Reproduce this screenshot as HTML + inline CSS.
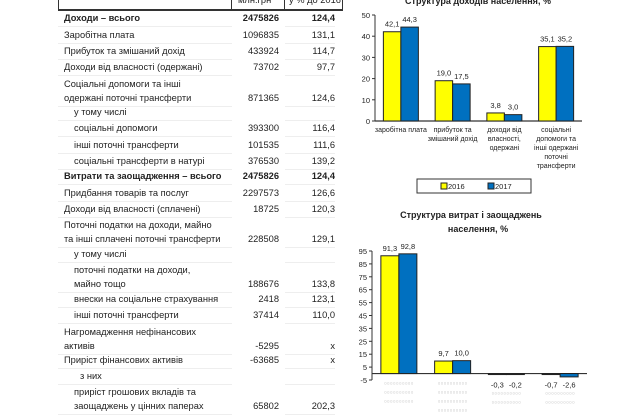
<!DOCTYPE html>
<html><head><meta charset="utf-8"><style>
body{margin:0;width:630px;height:416px;background:#fff;overflow:hidden;position:relative;font-family:"Liberation Sans","DejaVu Sans",sans-serif;}
.t{position:absolute;font-size:9.3px;color:#222;white-space:nowrap;line-height:12px}
.b{font-weight:bold}
.sep{position:absolute;height:1px;background:#eee;}
svg text{font-family:"Liberation Sans",sans-serif}
</style></head><body>
<div id="tbl"></div>
<svg id="c1" width="630" height="416" style="position:absolute;left:0;top:0"></svg>
<script>
var rows=[
["Доходи – всього","2475826","124,4",20,1,0],
["Заробітна плата","1096835","131,1",37,0,0],
["Прибуток та змішаний дохід","433924","114,7",53,0,0],
["Доходи від власності (одержані)","73702","97,7",69,0,0],
["Соціальні допомоги та інші|одержані поточні трансферти","871365","124,6",86,0,0],
["у тому числі","","",114,0,1],
["соціальні допомоги","393300","116,4",130,0,1],
["інші поточні трансферти","101535","111,6",147,0,1],
["соціальні трансферти в натурі","376530","139,2",163,0,1],
["Витрати та заощадження – всього","2475826","124,4",178,1,0],
["Придбання товарів та послуг","2297573","126,6",195,0,0],
["Доходи від власності (сплачені)","18725","120,3",211,0,0],
["Поточні податки на доходи, майно|та інші сплачені поточні трансферти","228508","129,1",227,0,0],
["у тому числі","","",256,0,1],
["поточні податки на доходи,|майно тощо","188676","133,8",272,0,1],
["внески на соціальне страхування","2418","123,1",301,0,1],
["інші поточні трансферти","37414","110,0",317,0,1],
["Нагромадження нефінансових|активів","-5295","x",334,0,0],
["Приріст фінансових активів","-63685","x",362,0,0],
["з них","","",378,0,2],
["приріст грошових вкладів та|заощаджень у цінних паперах","65802","202,3",394,0,1]
];
var tb=document.getElementById('tbl'),h='';
h+='<div style="position:absolute;left:58px;top:9px;width:285px;height:2px;background:#333"></div>';
h+='<div style="position:absolute;left:231px;top:0;width:1px;height:10px;background:#333"></div><div style="position:absolute;left:284px;top:0;width:1px;height:10px;background:#333"></div><div style="position:absolute;left:342px;top:0;width:1px;height:10px;background:#333"></div><div style="position:absolute;left:58px;top:0;width:1px;height:10px;background:#333"></div>';
h+='<div class="t" style="left:238px;top:-6px">млн.грн</div><div class="t" style="left:289px;top:-6px">у % до 2016</div>';
rows.forEach(function(r,i){
 var lines=r[0].split('|'),last=r[3]+(lines.length-1)*14;
 var ind=r[5]==1?10:(r[5]==2?16:0);
 lines.forEach(function(l,j){h+='<div class="t'+(r[4]?' b':'')+'" style="left:'+(64+ind)+'px;top:'+(r[3]-8+j*14)+'px">'+l+'</div>';});
 h+='<div class="t'+(r[4]?' b':'')+'" style="right:'+(630-279)+'px;top:'+(last-8)+'px">'+r[1]+'</div>';
 h+='<div class="t'+(r[4]?' b':'')+'" style="right:'+(630-335)+'px;top:'+(last-8)+'px">'+r[2]+'</div>';
 h+='<div class="sep" style="left:58px;width:174px;top:'+(last+6)+'px"></div><div class="sep" style="left:285px;width:50px;top:'+(last+6)+'px"></div>';
});
tb.innerHTML=h;
</script>
<script>
var cats1=["заробітна плата","прибуток та|змішаний дохід","доходи від|власності,|одержані","соціальні|допомоги та|інші одержані|поточні|трансферти"];
var v2016a=[42.1,19.0,3.8,35.1];
var v2017a=[44.3,17.5,3.0,35.2];
var ticks1=[0,10,20,30,40,50];
var v2016b=[91.3,9.7,-0.3,-0.7];
var v2017b=[92.8,10.0,-0.2,-2.6];
var ticks2=[-5,5,15,25,35,45,55,65,75,85,95];
var NS='http://www.w3.org/2000/svg',svg=document.getElementById('c1');
function el(t,a,txt){var e=document.createElementNS(NS,t);for(var k in a)e.setAttribute(k,a[k]);if(txt!=null)e.textContent=txt;svg.appendChild(e);return e;}
function fmt(v){return v.toFixed(1).replace('.',',');}
function chart(o){
 var y=function(v){return o.y0-(v-o.min)*(o.y0-o.y1)/(o.max-o.min);};
 var cw=(o.x1-o.x0)/o.n;
 var ax=el('line',{x1:o.x0,y1:y(o.max),x2:o.x0,y2:y(o.min),stroke:'#333','stroke-width':1});
 
 o.ticks.forEach(function(t){
  var tl=el('text',{x:o.x0-5,y:y(t)+3,'font-size':7.5,'text-anchor':'end',fill:'#222'},t);
  
  el('line',{x1:o.x0-3,x2:o.x0,y1:y(t),y2:y(t),stroke:'#333'});
 });
 var zl=el('line',{x1:o.x0,x2:o.x1,y1:y(0),y2:y(0),stroke:'#333','stroke-width':1.2});
 
 for(var i=0;i<o.n;i++){
  var cx=o.x0+cw*i+cw/2,bw=o.bw;
  [[o.a,'#ffff00',-bw],[o.b,'#0070c0',0]].forEach(function(s){
   var v=s[0][i],yy=y(Math.max(v,0)),hh=Math.abs(y(v)-y(0));
   var r=el('rect',{x:cx+s[2],y:yy,width:bw,height:Math.max(hh,1),fill:s[1],stroke:'#222','stroke-width':1});
   
   var ly=v>=0?yy-5:y(0)+14;
   var lt=el('text',{x:cx+s[2]+bw/2,y:ly,'font-size':7.5,'text-anchor':'middle',fill:'#222'},fmt(v));
   
  });
  if(o.cats){o.cats[i].split('|').forEach(function(l,j){
   var c=el('text',{x:cx,y:y(0)+11+j*9,'font-size':7,'text-anchor':'middle',fill:'#222'},l);
   });}
  else{for(var j=0;j<o.gl[i];j++){var c=el('text',{x:cx,y:y(0)+12+j*9+(o.b[i]<0?10:0),'font-size':7,'text-anchor':'middle',fill:'#bbb','letter-spacing':'0.5'},'▫▫▫▫▫▫▫▫▫▫');
   }}
 }
}
chart({x0:375,x1:582,y0:121,y1:15,min:0,max:50,n:4,bw:17.5,a:v2016a,b:v2017a,ticks:ticks1,cats:cats1});
var t0=el('text',{x:478,y:4,'font-size':9,'font-weight':'bold','text-anchor':'middle',fill:'#222'},'Структура доходів населення, %');

var lg=el('rect',{x:417,y:179,width:114,height:14,fill:'#fff',stroke:'#333'});

el('rect',{x:441,y:183,width:6,height:6,fill:'#ffff00',stroke:'#222'});
var l1=el('text',{x:448,y:189,'font-size':7.5,fill:'#222'},'2016');
el('rect',{x:488,y:183,width:6,height:6,fill:'#0070c0',stroke:'#222'});
var l2=el('text',{x:495,y:189,'font-size':7.5,fill:'#222'},'2017');
var t1=el('text',{x:471,y:218,'font-size':9,'font-weight':'bold','text-anchor':'middle',fill:'#222'},'Структура витрат і заощаджень');

var t2=el('text',{x:478,y:232,'font-size':9,'font-weight':'bold','text-anchor':'middle',fill:'#222'},'населення, %');

chart({x0:372,x1:587,y0:380,y1:251,min:-5,max:95,n:4,bw:18,a:v2016b,b:v2017b,ticks:ticks2,gl:[3,4,2,2]});
</script>
</body></html>
